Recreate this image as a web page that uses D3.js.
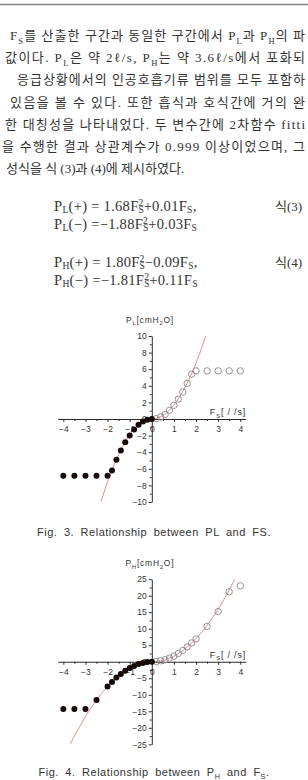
<!DOCTYPE html>
<html>
<head>
<meta charset="utf-8">
<script src="https://cdn.jsdelivr.net/npm/d3@7"></script>
<style>
    html, body { margin: 0; padding: 0; background: #fff; }
    svg { display: block; }
</style>
</head>
<body>
<script>
// paragraph text (cropped page), _{..} = subscript, ^{..} = superscript
const bodyLines = [
    "F_{S}를 산출한 구간과 동일한 구간에서 P_{L}과 P_{H}의 파",
    "값이다. P_{L}은 약 2ℓ/s, P_{H}는 약 3.6ℓ/s에서 포화되",
    "응급상황에서의 인공호흡기류 범위를 모두 포함하",
    "있음을 볼 수 있다. 또한 흡식과 호식간에 거의 완",
    "한 대칭성을 나타내었다. 두 변수간에 2차함수 fitti",
    "을 수행한 결과 상관계수가 0.999 이상이었으며, 그",
    "성식을 식 (3)과 (4)에 제시하였다."
];
const equationLines = [
    "P_{L}(+) = 1.68F_{S}^{2}+0.01F_{S},",
    "P_{L}(−) =−1.88F_{S}^{2}+0.03F_{S}",
    "P_{H}(+) = 1.80F_{S}^{2}−0.09F_{S},",
    "P_{H}(−) =−1.81F_{S}^{2}+0.11F_{S}"
];
const equationTags = ["식(3)", "", "식(4)", ""];

// Fig. 3 : P_L vs F_S
const fsPos = [0.2, 0.4, 0.6, 0.8, 1.0, 1.2, 1.4, 1.6, 1.8, 2.0, 2.5, 3.0, 3.5, 4.0];
const plPos = [0.05, 0.25, 0.55, 1.05, 1.65, 2.4, 3.25, 4.3, 5.4, 5.8, 5.8, 5.8, 5.8, 5.8];
const fsNeg = [0, -0.2, -0.4, -0.6, -0.8, -1.0, -1.2, -1.4, -1.6, -1.8, -2.0, -2.5, -3.0, -3.5, -4.0];
const plNeg = [0, -0.1, -0.3, -0.7, -1.25, -2.0, -2.8, -3.8, -4.9, -6.2, -6.85, -6.85, -6.85, -6.85, -6.85];
const plFitPos = [1.68, 0.01];
const plFitNeg = [-1.88, 0.03];

// Fig. 4 : P_H vs F_S
const phPos = [0.05, 0.3, 0.6, 1.1, 1.7, 2.5, 3.4, 4.5, 5.7, 6.9, 10.7, 15.2, 21.2, 23.0];
const phNeg = [0, -0.1, -0.35, -0.7, -1.25, -1.9, -2.75, -3.7, -4.8, -6.1, -7.5, -11.6, -14.3, -14.3, -14.3];
const phFitPos = [1.80, -0.09];
const phFitNeg = [-1.81, 0.11];

const xTicks = [-4, -3, -2, -1, 0, 1, 2, 3, 4];
const xMinor = [-3.5, -2.5, -1.5, -0.5, 0.5, 1.5, 2.5, 3.5];
const plTicks = [-10, -8, -6, -4, -2, 0, 2, 4, 6, 8, 10];
const plMinor = [-9, -7, -5, -3, -1, 1, 3, 5, 7, 9];
const phTicks = [-25, -20, -15, -10, -5, 0, 5, 10, 15, 20, 25];
const phMinor = [-22.5, -17.5, -12.5, -7.5, -2.5, 2.5, 7.5, 12.5, 17.5, 22.5];

const W = 308, H = 780;
const ink = "#2a2a2a";
const fitColor = "#e2666b";

const svg = d3.select("body").append("svg")
    .attr("width", W)
    .attr("height", H);

// writes a string with _{} / ^{} markup into a text element
function richText(sel, str, size, subShift = 0.28, supShift = 0.38) {
    const parts = str.split(/(_\{[^}]*\}|\^\{[^}]*\})/).filter(p => p !== "");
    let offset = 0;
    let lastSub = null;
    parts.forEach(p => {
        const isSub = p.startsWith("_{");
        const isSup = p.startsWith("^{");
        const target = isSub ? size * subShift : isSup ? -size * supShift : 0;
        const t = sel.append("tspan")
            .attr("dy", target - offset)
            .text(isSub || isSup ? p.slice(2, -1) : p);
        if (isSub || isSup) t.style("font-size", (size * 0.66) + "px");
        if (isSup && lastSub) {
            t.attr("dx", -lastSub.node().getComputedTextLength());
        }
        offset = target;
        lastSub = isSub ? t : null;
    });
    if (offset !== 0) sel.append("tspan").attr("dy", -offset).text("");
}

// top rule
svg.append("line")
    .attr("x1", 0).attr("x2", W)
    .attr("y1", 4.5).attr("y2", 4.5)
    .attr("stroke", "#808080")
    .attr("stroke-width", 1.5);

// paragraph
const bodyX = [10, 5, 17, 10, 5, 2, 6];
const bodyLen = [295, 300, 288, 295, 300, 303, 0];
bodyLines.forEach((line, i) => {
    const t = svg.append("text")
        .attr("x", bodyX[i])
        .attr("y", 40 + i * 22.2)
        .style("font-family", "'Liberation Serif', 'Noto Sans CJK KR', serif")
        .style("font-size", "13px")
        .style("fill", "#333");
    if (bodyLen[i]) t.attr("textLength", bodyLen[i]).attr("lengthAdjust", "spacing");
    richText(t, line, 13);
});

// equations
const eqY = [210.5, 228.5, 266.5, 284.5];
equationLines.forEach((line, i) => {
    const t = svg.append("text")
        .attr("x", 54)
        .attr("y", eqY[i])
        .style("font-family", "'Liberation Serif', serif")
        .style("font-size", "14.5px")
        .style("letter-spacing", "0.3px")
        .style("fill", "#333");
    richText(t, line, 14.5, 0.2, 0.33);
    if (equationTags[i]) {
        svg.append("text")
            .attr("x", 275)
            .attr("y", eqY[i])
            .style("font-family", "'Liberation Serif', 'Noto Sans CJK KR', serif")
            .style("font-size", "13px")
            .style("fill", "#333")
            .text(equationTags[i]);
    }
});

function fitPoints(coef, sign, yDomain) {
    const pts = [];
    for (let i = 0; i <= 425; i++) {
        const f = sign * i / 100;
        const p = coef[0] * f * f + coef[1] * f;
        if (p < yDomain[0] || p > yDomain[1]) break;
        pts.push([f, p]);
    }
    return pts;
}

function drawPanel(cfg) {
    const x = d3.scaleLinear().domain([-4.25, 4.25]).range([57.8, 245.8]);
    const y = d3.scaleLinear().domain(cfg.yDomain).range([cfg.yBottom, cfg.yTop]);
    const g = svg.append("g");
    const font = "'Liberation Sans', Arial, sans-serif";

    // fit lines
    const line = d3.line().x(d => x(d[0])).y(d => y(d[1]));
    [fitPoints(cfg.fitPos, 1, cfg.yDomain), fitPoints(cfg.fitNeg, -1, cfg.yDomain)].forEach(pts => {
        g.append("path")
            .attr("d", line(pts))
            .attr("fill", "none")
            .attr("stroke", fitColor)
            .attr("stroke-width", 0.9);
    });

    // x axis
    const xAxis = g.append("g")
        .attr("transform", "translate(0," + y(0) + ")")
        .call(d3.axisBottom(x).tickValues(xTicks).tickSize(3).tickSizeOuter(0).tickPadding(3));
    g.append("g")
        .attr("transform", "translate(0," + y(0) + ")")
        .call(d3.axisBottom(x).tickValues(xMinor).tickSize(2).tickFormat("").tickSizeOuter(0))
        .select(".domain").remove();

    // y axis
    g.append("g")
        .attr("transform", "translate(" + x(0) + ",0)")
        .call(d3.axisLeft(y).tickValues(cfg.yTicks).tickSize(3).tickSizeOuter(0).tickPadding(2));
    g.append("g")
        .attr("transform", "translate(" + x(0) + ",0)")
        .call(d3.axisLeft(y).tickValues(cfg.yMinor).tickSize(2).tickFormat("").tickSizeOuter(0))
        .select(".domain").remove();

    g.selectAll(".domain, .tick line").attr("stroke", ink);
    g.selectAll(".tick text")
        .style("font-family", font)
        .style("font-size", "8.5px")
        .style("fill", "#333");
    xAxis.selectAll(".tick text").attr("dy", "0.8em");

    // points
    g.selectAll(".pos")
        .data(fsPos.map((f, i) => [f, cfg.pos[i]]))
        .enter().append("circle")
        .attr("cx", d => x(d[0]))
        .attr("cy", d => y(d[1]))
        .attr("r", 3.2)
        .attr("fill", "none")
        .attr("stroke", "#8a8a8a")
        .attr("stroke-width", 0.9);
    g.selectAll(".neg")
        .data(fsNeg.map((f, i) => [f, cfg.neg[i]]))
        .enter().append("circle")
        .attr("cx", d => x(d[0]))
        .attr("cy", d => y(d[1]))
        .attr("r", 3)
        .attr("fill", "#140808");

    // axis titles
    const yt = g.append("text")
        .attr("x", 150)
        .attr("y", cfg.yTop - 13)
        .attr("text-anchor", "middle")
        .style("font-family", font)
        .style("font-size", "8.5px")
        .style("letter-spacing", "0.8px")
        .style("fill", "#333");
    richText(yt, cfg.yLabel, 8.5);
    const xt = g.append("text")
        .attr("x", 246)
        .attr("y", y(0) - 4)
        .attr("text-anchor", "end")
        .style("font-family", font)
        .style("font-size", "9px")
        .style("letter-spacing", "0.8px")
        .style("fill", "#333");
    richText(xt, "F_{S}[ / /s]", 9);

    // caption
    const cap = g.append("text")
        .attr("x", 154)
        .attr("y", cfg.captionY)
        .attr("text-anchor", "middle")
        .style("font-family", font)
        .style("font-size", "11px")
        .style("letter-spacing", "0.5px")
        .style("word-spacing", "3px")
        .style("fill", "#333");
    richText(cap, cfg.caption, 11);
}

drawPanel({
    yDomain: [-10, 10], yTop: 336, yBottom: 502,
    yTicks: plTicks, yMinor: plMinor,
    pos: plPos, neg: plNeg, fitPos: plFitPos, fitNeg: plFitNeg,
    yLabel: "P_{L}[cmH_{2}O]",
    caption: "Fig. 3. Relationship between PL and FS.",
    captionY: 536
});

drawPanel({
    yDomain: [-25, 25], yTop: 579.2, yBottom: 744.3,
    yTicks: phTicks, yMinor: phMinor,
    pos: phPos, neg: phNeg, fitPos: phFitPos, fitNeg: phFitNeg,
    yLabel: "P_{H}[cmH_{2}O]",
    caption: "Fig. 4. Relationship between P_{H} and F_{S}.",
    captionY: 776
});
</script>
</body>
</html>
